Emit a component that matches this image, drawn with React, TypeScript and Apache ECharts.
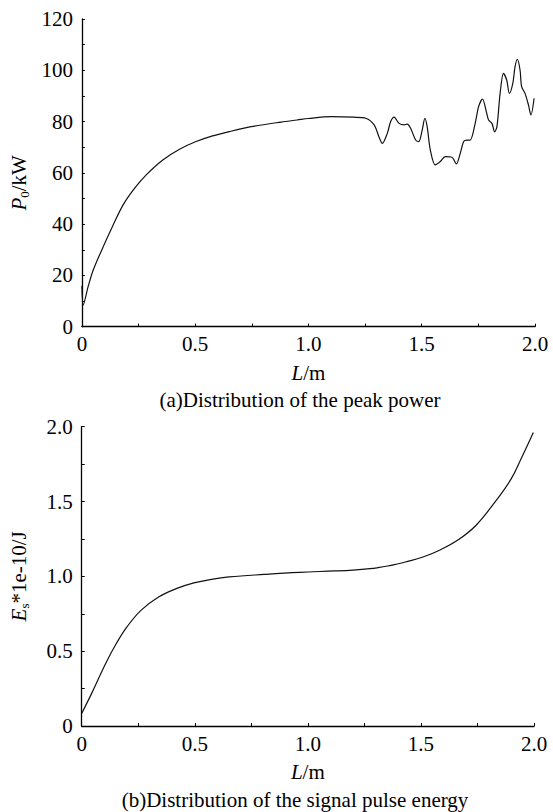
import React, { useEffect, useRef } from "react";
import * as echarts from "echarts";

const powerL = [0, 0.006, 0.028, 0.05, 0.094, 0.138, 0.182, 0.233, 0.284, 0.357, 0.431, 0.504, 0.577, 0.651, 0.747, 0.88, 0.95, 1.0, 1.1, 1.2, 1.253, 1.29, 1.311, 1.326, 1.348, 1.363, 1.378, 1.4, 1.422, 1.436, 1.451, 1.473, 1.487, 1.502, 1.514, 1.524, 1.538, 1.56, 1.582, 1.604, 1.633, 1.653, 1.67, 1.685, 1.7, 1.714, 1.736, 1.751, 1.768, 1.787, 1.795, 1.81, 1.822, 1.832, 1.846, 1.861, 1.875, 1.887, 1.902, 1.912, 1.922, 1.934, 1.941, 1.956, 1.971, 1.982, 1.996];
const powerP = [16, 8.5, 15.8, 22.1, 31.2, 39.7, 47.5, 54, 59.2, 65, 69.2, 72.2, 74.4, 76.1, 78, 79.8, 80.6, 81.2, 81.9, 81.7, 81.3, 78.7, 74.1, 71.5, 75.4, 80, 81.7, 79.3, 78.7, 79, 77.4, 72.8, 72.2, 76.7, 81.3, 78, 68.9, 63.1, 64.4, 66.3, 66.1, 63.5, 67.6, 72.2, 72.8, 72.8, 79.3, 85.8, 88.8, 83.2, 80.6, 79.3, 76, 78, 91, 98.8, 96.2, 91, 94.9, 101.4, 104.3, 100.1, 93.6, 91, 86.5, 82.6, 89.1];

const energyL = [0, 0.044, 0.106, 0.153, 0.2, 0.262, 0.34, 0.418, 0.496, 0.574, 0.652, 0.807, 0.963, 1.119, 1.2, 1.275, 1.31, 1.353, 1.39, 1.431, 1.509, 1.587, 1.665, 1.743, 1.821, 1.899, 1.946, 1.997];
const energyE = [0.084, 0.218, 0.418, 0.551, 0.662, 0.773, 0.862, 0.918, 0.956, 0.98, 0.996, 1.013, 1.027, 1.036, 1.042, 1.051, 1.058, 1.069, 1.081, 1.096, 1.129, 1.178, 1.244, 1.34, 1.484, 1.651, 1.796, 1.962];

const captionA = "(a)Distribution of the peak power";
const captionB = "(b)Distribution of the signal pulse energy";

const FONT = "'Liberation Serif', 'Times New Roman', serif";
const FS = 21;

function fmt1(v: number) {
  return v === 0 ? "0" : v.toFixed(1);
}

const richName = {
  i: { fontStyle: "italic", fontSize: FS, fontFamily: FONT, color: "#000", lineHeight: 24 },
  n: { fontSize: FS, fontFamily: FONT, color: "#000", lineHeight: 24 },
  s: { fontSize: 13, fontFamily: FONT, color: "#000", lineHeight: 13, verticalAlign: "bottom" as const },
};

function xAxisCfg(gridIndex: number) {
  return {
    type: "value" as const,
    gridIndex,
    min: 0,
    max: 2,
    interval: 0.5,
    name: "{i|L}{n|/m}",
    nameLocation: "middle" as const,
    nameGap: 34,
    nameTextStyle: { rich: richName },
    axisLine: { show: true, lineStyle: { color: "#000", width: 1.3 } },
    axisTick: { show: true, inside: true, length: 3, lineStyle: { color: "#000", width: 1 } },
    minorTick: { show: true, splitNumber: 2, length: 3, lineStyle: { color: "#000", width: 1 } },
    splitLine: { show: false },
    axisLabel: { color: "#000", fontFamily: FONT, fontSize: FS, margin: 7, formatter: fmt1 },
  };
}

export default function App() {
  const ref = useRef<HTMLDivElement>(null);
  useEffect(() => {
    if (!ref.current) return;
    const chart = echarts.init(ref.current, undefined, { renderer: "svg" });
    const line = { color: "#111", width: 1.2 };
    chart.setOption({
      animation: false,
      backgroundColor: "#fff",
      grid: [
        { left: 80, right: 18, top: 19, height: 307.7 },
        { left: 81.7, right: 19, top: 426.7, height: 299.3 },
      ],
      xAxis: [xAxisCfg(0), xAxisCfg(1)],
      yAxis: [
        {
          type: "value",
          gridIndex: 0,
          min: 0,
          max: 120,
          interval: 20,
          name: "{i|P}{s|0}{n|/kW}",
          nameLocation: "middle",
          nameGap: 48,
          nameRotate: 90,
          nameTextStyle: { rich: richName, padding: [0, 20, 0, 0] },
          axisLine: { show: true, lineStyle: { color: "#000", width: 1.3 } },
          axisTick: { show: true, inside: true, length: 3, lineStyle: { color: "#000", width: 1 } },
          minorTick: { show: true, splitNumber: 2, length: 3, lineStyle: { color: "#000", width: 1 } },
          splitLine: { show: false },
          axisLabel: { color: "#000", fontFamily: FONT, fontSize: FS, margin: 9 },
        },
        {
          type: "value",
          gridIndex: 1,
          min: 0,
          max: 2,
          interval: 0.5,
          name: "{i|E}{s|s}{n|*1e-10/J}",
          nameLocation: "middle",
          nameGap: 51,
          nameRotate: 90,
          nameTextStyle: { rich: richName },
          axisLine: { show: true, lineStyle: { color: "#000", width: 1.3 } },
          axisTick: { show: true, inside: true, length: 3, lineStyle: { color: "#000", width: 1 } },
          minorTick: { show: true, splitNumber: 2, length: 3, lineStyle: { color: "#000", width: 1 } },
          splitLine: { show: false },
          axisLabel: { color: "#000", fontFamily: FONT, fontSize: FS, margin: 9, formatter: fmt1 },
        },
      ],
      series: [
        {
          type: "line",
          xAxisIndex: 0,
          yAxisIndex: 0,
          data: powerL.map((l, i) => [l, powerP[i]]),
          showSymbol: false,
          smooth: 0.3,
          lineStyle: line,
          itemStyle: { color: "#111" },
        },
        {
          type: "line",
          xAxisIndex: 1,
          yAxisIndex: 1,
          data: energyL.map((l, i) => [l, energyE[i]]),
          showSymbol: false,
          smooth: 0.4,
          lineStyle: line,
          itemStyle: { color: "#111" },
        },
      ],
      graphic: [
        {
          type: "text",
          x: 300,
          y: 400,
          style: { text: captionA, fill: "#000", font: `${FS}px ${FONT}`, textAlign: "center", textVerticalAlign: "middle" },
        },
        {
          type: "text",
          x: 295,
          y: 800,
          style: { text: captionB, fill: "#000", font: `${FS}px ${FONT}`, textAlign: "center", textVerticalAlign: "middle" },
        },
      ],
    });
    return () => chart.dispose();
  }, []);
  return <div ref={ref} style={{ position: "absolute", left: 0, top: 0, width: 553, height: 812 }} />;
}
